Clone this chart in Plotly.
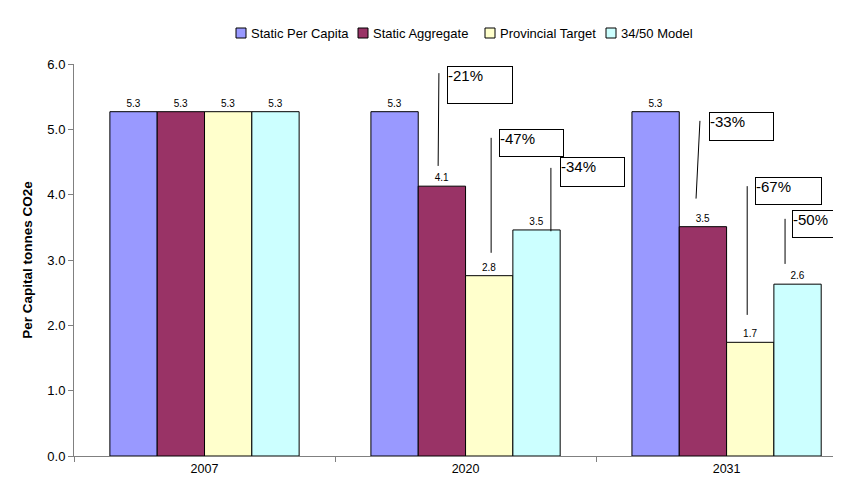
import plotly.graph_objects as go

categories = ["2007", "2020", "2031"]
series_names = ["Static Per Capita", "Static Aggregate", "Provincial Target", "34/50 Model"]
static_per_capita = [5.27, 5.27, 5.27]
static_aggregate = [5.27, 4.13, 3.51]
provincial_target = [5.27, 2.76, 1.74]
model_34_50 = [5.27, 3.46, 2.63]
series_values = [static_per_capita, static_aggregate, provincial_target, model_34_50]
colors = ["#9999FF", "#993366", "#FFFFCC", "#CCFFFF"]

# callout texts
callout_texts = ["-21%", "-47%", "-34%", "-33%", "-67%", "-50%"]

FONT = "Arial, Liberation Sans, sans-serif"
W, H = 841, 478
ML, MR, MT, MB = 66, 0, 56, 30
PW, PH = W - ML - MR, H - MT - MB


def px_to_paper_x(px):
    return (px - ML) / PW


def px_to_paper_y(py):
    return (H - MB - py) / PH


fig = go.Figure()
for name, vals, col in zip(series_names, series_values, colors):
    fig.add_trace(go.Bar(
        name=name, x=categories, y=vals,
        marker=dict(color=col, line=dict(color="#000000", width=1)),
        texttemplate="%{y:.1f}", textposition="outside",
        textfont=dict(size=10, color="#000000", family=FONT),
        cliponaxis=False, showlegend=False,
    ))

# callout layout: (box left x, box top y, width, height, line x0, y0, x1, y1) in data units
callout_layout = [
    (0.929, 5.97, 64, 36, 0.898, 5.86, 0.895, 4.44),
    (1.128, 5.01, 63, 26, 1.098, 4.87, 1.098, 3.11),
    (1.362, 4.58, 63, 28, 1.327, 4.41, 1.327, 3.44),
    (1.933, 5.27, 63, 27, 1.898, 5.13, 1.883, 3.94),
    (2.109, 4.27, 65, 26, 2.079, 4.13, 2.079, 2.16),
    (2.251, 3.77, 63, 26, 2.224, 3.63, 2.224, 2.94),
]
for txt, (bx, by, bw, bh, lx0, ly0, lx1, ly1) in zip(callout_texts, callout_layout):
    fig.add_annotation(
        x=bx, y=by, xref="x", yref="y", text=txt, showarrow=False,
        xanchor="left", yanchor="top", align="left", valign="top",
        width=bw, height=bh, bordercolor="#000000", borderwidth=1, borderpad=0,
        bgcolor="#FFFFFF", font=dict(size=15, color="#000000", family=FONT),
    )
    fig.add_shape(type="line", xref="x", yref="y", x0=lx0, y0=ly0, x1=lx1, y1=ly1,
                  line=dict(color="#000000", width=1))

# legend (compact, Excel-style): square left edges in px, vertical band
legend_square_px = [228, 350, 477, 598]
legend_sq_top, legend_sq_bot, legend_text_y = 20, 30, 25
for name, col, sx in zip(series_names, colors, legend_square_px):
    fig.add_shape(type="rect", xref="paper", yref="paper",
                  x0=px_to_paper_x(sx), x1=px_to_paper_x(sx + 10),
                  y0=px_to_paper_y(legend_sq_bot), y1=px_to_paper_y(legend_sq_top),
                  fillcolor=col, line=dict(color="#000000", width=1))
    fig.add_annotation(x=px_to_paper_x(sx + 13), y=px_to_paper_y(legend_text_y),
                       xref="paper", yref="paper", text=name, showarrow=False,
                       xanchor="left", yanchor="middle",
                       font=dict(size=13, color="#000000", family=FONT))

fig.update_layout(
    width=W, height=H,
    margin=dict(l=ML, r=MR, t=MT, b=MB),
    paper_bgcolor="#FFFFFF", plot_bgcolor="#FFFFFF",
    barmode="group", bargap=0.275, bargroupgap=0,
    font=dict(family=FONT, color="#000000"),
    showlegend=False,
    xaxis=dict(type="category", range=[-0.5, 2.469], showline=True, linecolor="#808080",
               linewidth=1, ticks="outside", tickson="boundaries", ticklen=5,
               tickcolor="#808080", tickfont=dict(size=12.5, family=FONT), showgrid=False,
               ticklabelstandoff=1),
    yaxis=dict(range=[0, 6], dtick=1, tickformat=".1f", showline=True, linecolor="#808080",
               linewidth=1, ticks="outside", ticklen=5, tickcolor="#808080",
               tickfont=dict(size=13, family=FONT), showgrid=False, zeroline=False,
               title=dict(text="<b>Per Capital tonnes CO2e</b>", font=dict(size=13.5, family=FONT),
                          standoff=11)),
)

fig.write_html("out.html")
